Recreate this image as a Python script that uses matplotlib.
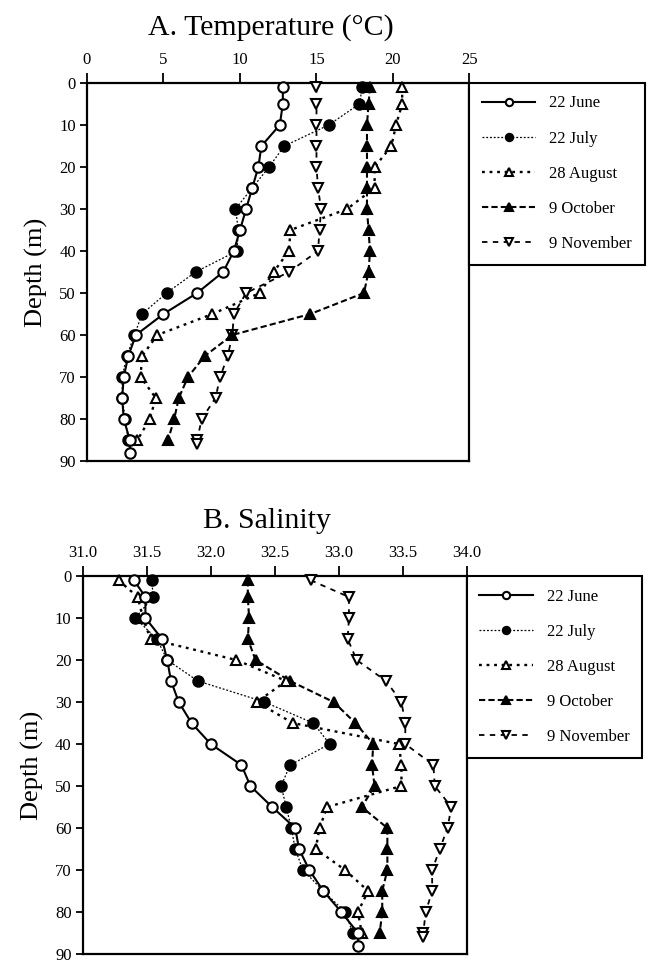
import matplotlib.pyplot as plt

plt.rcParams['font.family'] = ['Liberation Serif', 'DejaVu Serif']

labels = ['22 June', '22 July', '28 August', '9 October', '9 November']

depth_main = [1, 5, 10, 15, 20, 25, 30, 35, 40, 45, 50, 55, 60, 65, 70, 75, 80, 85]
depth_june = depth_main + [88]
depth_nov = depth_main + [86]

# temperature profiles (deg C)
temp_june = [12.8, 12.8, 12.6, 11.4, 11.2, 10.8, 10.4, 10.0, 9.6, 8.9,
             7.2, 5.0, 3.2, 2.7, 2.4, 2.3, 2.4, 2.8, 2.8]
temp_july = [18.0, 17.8, 15.8, 12.9, 11.9, 10.8, 9.7, 9.9, 9.8, 7.1,
             5.2, 3.6, 3.1, 2.6, 2.3, 2.3, 2.5, 2.7]
temp_aug = [20.6, 20.6, 20.2, 19.9, 18.8, 18.8, 17.0, 13.3, 13.2, 12.2,
            11.3, 8.2, 4.6, 3.6, 3.5, 4.5, 4.1, 3.3]
temp_oct = [18.5, 18.4, 18.3, 18.3, 18.3, 18.3, 18.3, 18.4, 18.5, 18.4,
            18.1, 14.6, 9.5, 7.7, 6.6, 6.0, 5.7, 5.3]
temp_nov = [15.0, 15.0, 15.0, 15.0, 15.0, 15.1, 15.3, 15.2, 15.1, 13.2,
            10.4, 9.6, 9.5, 9.2, 8.7, 8.4, 7.5, 7.2, 7.2]

# salinity profiles
sal_june = [31.40, 31.49, 31.49, 31.62, 31.66, 31.69, 31.75, 31.85, 32.00, 32.24,
            32.31, 32.48, 32.66, 32.69, 32.77, 32.88, 33.02, 33.15, 33.15]
sal_july = [31.54, 31.55, 31.41, 31.58, 31.66, 31.90, 32.42, 32.80, 32.93, 32.62,
            32.55, 32.59, 32.63, 32.66, 32.72, 32.88, 33.05, 33.11]
sal_aug = [31.28, 31.43, 31.47, 31.53, 32.20, 32.59, 32.36, 32.64, 33.47, 33.49,
           33.49, 32.91, 32.85, 32.82, 33.05, 33.23, 33.15, 33.18]
sal_oct = [32.29, 32.29, 32.30, 32.29, 32.35, 32.62, 32.96, 33.13, 33.27, 33.26,
           33.28, 33.18, 33.38, 33.38, 33.38, 33.34, 33.34, 33.32]
sal_nov = [32.78, 33.08, 33.08, 33.07, 33.14, 33.37, 33.49, 33.52, 33.52, 33.74,
           33.75, 33.88, 33.85, 33.79, 33.73, 33.73, 33.68, 33.66, 33.66]

temp_ticks = [0, 5, 10, 15, 20, 25]
sal_ticks = [31.0, 31.5, 32.0, 32.5, 33.0, 33.5, 34.0]
depth_ticks = list(range(0, 100, 10))

styles = [
    dict(ls='-', lw=1.5, marker='o', mfc='white', ms=7.5),
    dict(ls=(0, (1.5, 1.5)), lw=0.9, marker='o', mfc='black', ms=7.5),
    dict(ls=(0, (1.2, 2.0)), lw=1.7, marker='^', mfc='white', ms=7.5),
    dict(ls=(0, (3.0, 1.5)), lw=1.5, marker='^', mfc='black', ms=7.5),
    dict(ls=(0, (3.0, 3.0)), lw=1.3, marker='v', mfc='white', ms=7.5),
]


def profile_panel(ax, series, depths, xlim, xticks, xfmt, title):
    for i, (vals, dep, st, lab) in enumerate(zip(series, depths, styles, labels)):
        # first cruise sits on top of the others
        ax.plot(vals, dep, color='black', mec='black', mew=1.5, label=lab,
                clip_on=False, zorder=10 - i, **st)
    ax.set_xlim(*xlim)
    ax.set_ylim(90, 0)
    ax.xaxis.tick_top()
    ax.set_xticks(xticks)
    ax.set_xticklabels([xfmt.format(t) for t in xticks])
    ax.set_yticks(depth_ticks)
    ax.tick_params(axis='x', length=7, width=1.3, labelsize=12, pad=4)
    ax.tick_params(axis='y', length=5, width=1.3, labelsize=12, pad=3)
    for sp in ax.spines.values():
        sp.set_linewidth(1.6)
    ax.set_ylabel('Depth (m)', fontsize=19, labelpad=8)
    ax.set_title(title, fontsize=21.5, x=0.48, y=1.105)
    leg = ax.legend(loc='upper left', bbox_to_anchor=(1.0, 1.0), borderaxespad=0,
                    fontsize=12, handlelength=3.2, handletextpad=0.85,
                    labelspacing=1.15, borderpad=0.75, markerscale=0.7,
                    fancybox=False, edgecolor='black', framealpha=1)
    leg.get_frame().set_linewidth(1.5)


fig = plt.figure(figsize=(6.58, 9.65), dpi=100)
ax1 = fig.add_axes([0.1322, 0.5223, 0.5813, 0.3917])
ax2 = fig.add_axes([0.1257, 0.0114, 0.5836, 0.3917])

profile_panel(ax1, [temp_june, temp_july, temp_aug, temp_oct, temp_nov],
              [depth_june, depth_main, depth_main, depth_main, depth_nov],
              (0, 25), temp_ticks, '{:g}', 'A. Temperature (\u00b0C)')
profile_panel(ax2, [sal_june, sal_july, sal_aug, sal_oct, sal_nov],
              [depth_june, depth_main, depth_main, depth_main, depth_nov],
              (31.0, 34.0), sal_ticks, '{:.1f}', 'B. Salinity')

fig.savefig('out.png', dpi=100)
